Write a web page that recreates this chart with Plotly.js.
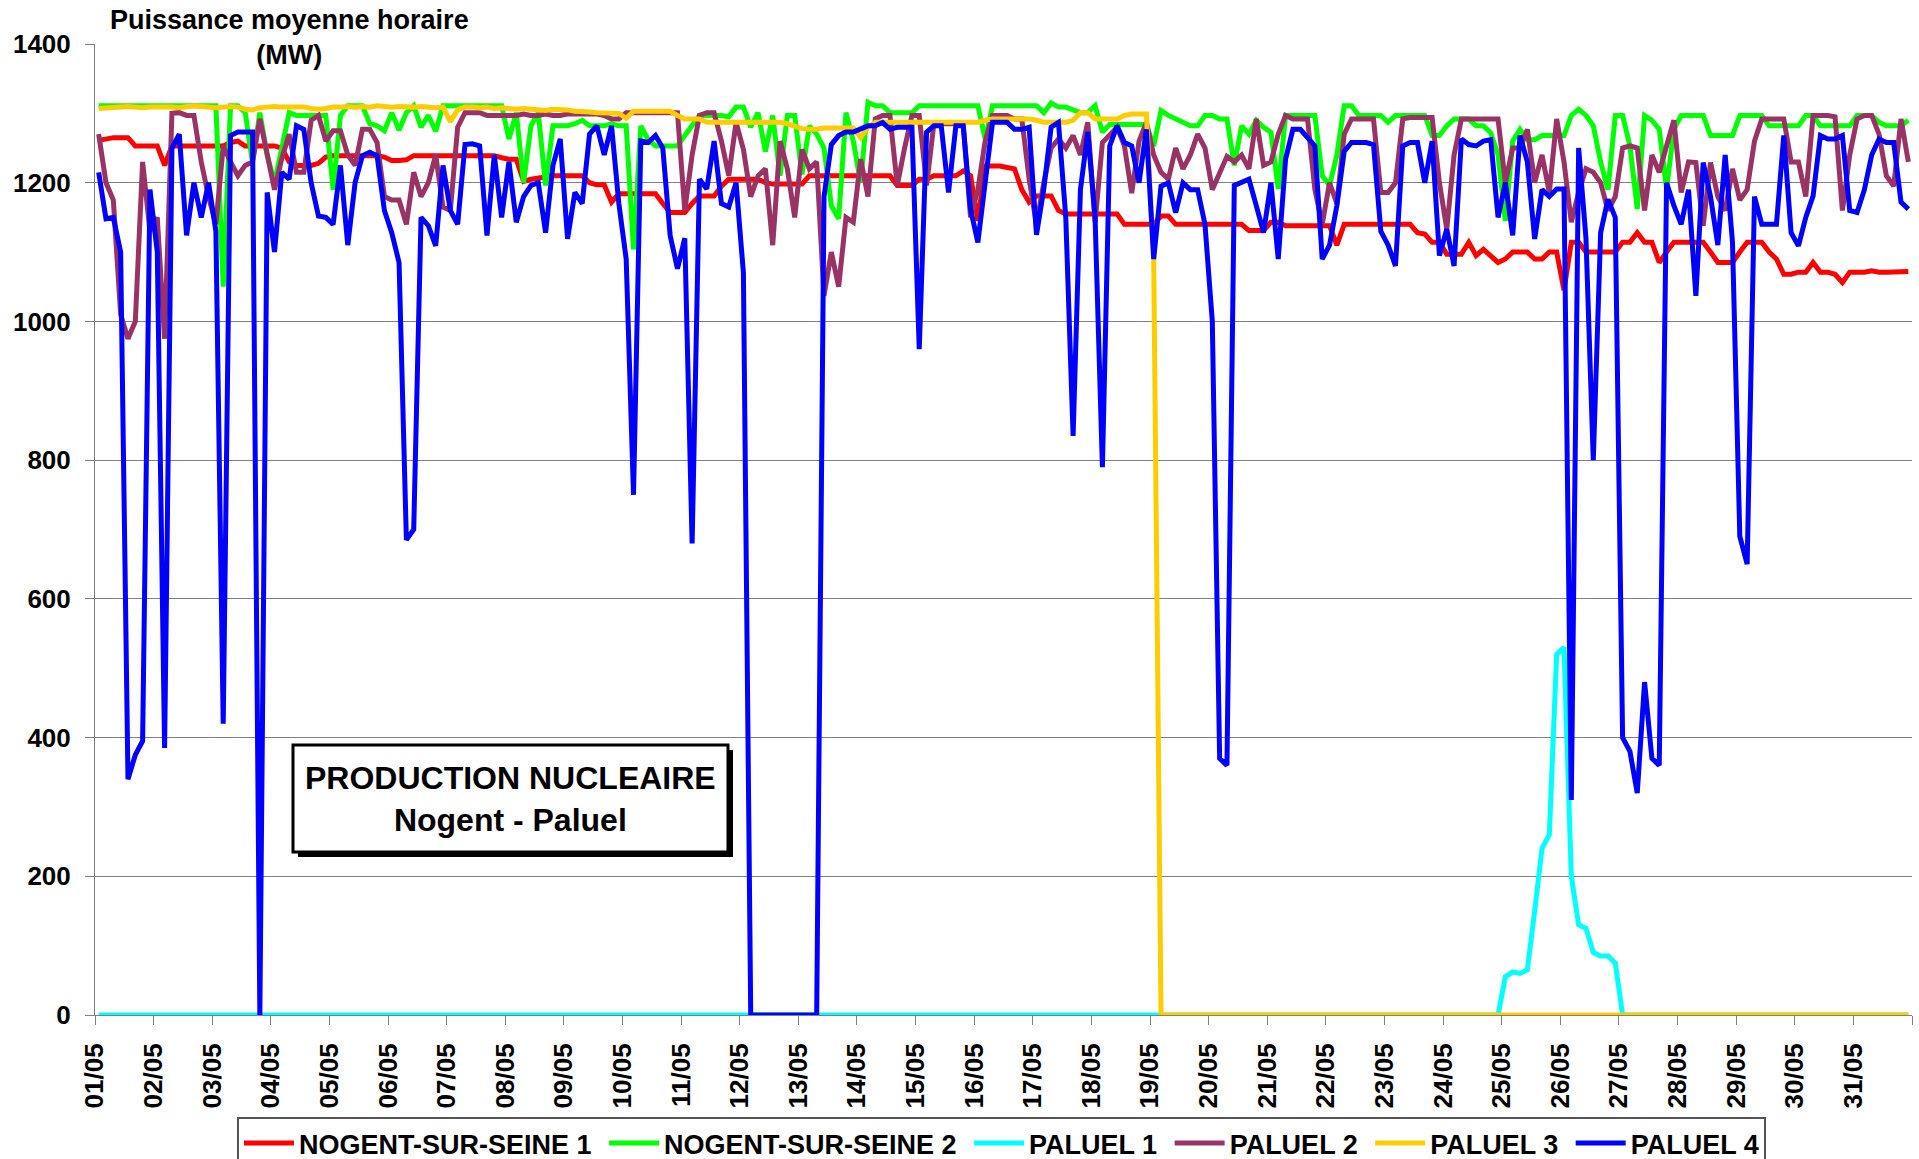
<!DOCTYPE html>
<html>
<head>
<meta charset="utf-8">
<script src="https://cdn.plot.ly/plotly-3.0.1.min.js"></script>
<style>
  html, body { margin: 0; padding: 0; background: #ffffff; }
  #chart { width: 1919px; height: 1159px; }
</style>
</head>
<body>
<div id="chart"></div>
<script>
// Day labels (one per day, May)
const dayLabels = ['01/05','02/05','03/05','04/05','05/05','06/05','07/05','08/05','09/05','10/05',
  '11/05','12/05','13/05','14/05','15/05','16/05','17/05','18/05','19/05','20/05',
  '21/05','22/05','23/05','24/05','25/05','26/05','27/05','28/05','29/05','30/05','31/05'];

// Series names
const seriesNames = ['NOGENT-SUR-SEINE 1','NOGENT-SUR-SEINE 2','PALUEL 1','PALUEL 2','PALUEL 3','PALUEL 4'];

// Readings every 3 hours (8 per day), MW
const nogent1 = [
  1261,1263,1265,1265,1265,1253,1253,1253,
  1253,1225,1253,1253,1253,1253,1253,1253,
  1253,1253,1258,1260,1253,1253,1253,1253,
  1253,1250,1230,1225,1225,1225,1228,1237,
  1239,1239,1239,1239,1239,1239,1239,1237,
  1232,1232,1233,1239,1239,1239,1239,1239,
  1239,1239,1239,1239,1239,1239,1239,1236,
  1234,1234,1202,1205,1207,1208,1210,1210,
  1210,1210,1210,1200,1197,1197,1172,1184,
  1184,1184,1184,1184,1184,1170,1157,1157,
  1157,1170,1181,1181,1181,1195,1205,1205,
  1205,1205,1205,1200,1198,1198,1198,1198,
  1198,1210,1210,1210,1210,1210,1210,1210,
  1210,1210,1210,1210,1210,1196,1196,1196,
  1205,1205,1210,1210,1210,1210,1217,1210,
  1145,1224,1224,1224,1222,1220,1190,1172,
  1181,1181,1181,1160,1155,1155,1155,1155,
  1155,1155,1155,1155,1140,1140,1140,1140,
  1140,1152,1152,1140,1140,1140,1140,1140,
  1140,1140,1140,1140,1140,1131,1131,1131,
  1143,1143,1138,1138,1138,1138,1138,1138,
  1138,1110,1140,1140,1140,1140,1140,1140,
  1140,1140,1140,1140,1128,1126,1114,1114,
  1097,1097,1097,1114,1095,1104,1095,1085,
  1090,1100,1100,1100,1090,1090,1100,1100,
  1045,1114,1114,1100,1100,1100,1100,1100,
  1114,1114,1128,1114,1114,1085,1100,1114,
  1114,1114,1114,1114,1100,1085,1085,1085,
  1100,1114,1114,1114,1100,1090,1068,1068,
  1071,1071,1085,1071,1071,1068,1056,1071,
  1071,1071,1073,1071,1071,1071,1071,1072
];

const nogent2 = [
  1311,1311,1311,1311,1311,1311,1311,1311,
  1311,1311,1311,1311,1311,1311,1311,1311,
  1311,1050,1311,1311,1301,1229,1301,1240,
  1200,1250,1301,1297,1297,1297,1297,1297,
  1190,1297,1311,1311,1311,1285,1282,1275,
  1301,1276,1301,1311,1280,1297,1274,1311,
  1311,1311,1311,1311,1311,1311,1311,1311,
  1263,1301,1200,1282,1301,1196,1282,1282,
  1282,1285,1290,1282,1282,1282,1285,1282,
  1282,1104,1282,1262,1253,1253,1253,1253,
  1268,1282,1297,1297,1297,1297,1295,1309,
  1309,1280,1301,1245,1297,1210,1297,1297,
  1212,1282,1270,1250,1167,1148,1301,1260,
  1200,1316,1311,1311,1301,1301,1301,1301,
  1311,1311,1311,1311,1311,1311,1311,1311,
  1311,1263,1311,1311,1311,1311,1311,1311,
  1311,1301,1315,1309,1309,1305,1301,1301,
  1311,1273,1284,1284,1284,1284,1284,1284,
  1253,1304,1297,1292,1287,1282,1282,1297,
  1297,1292,1292,1225,1282,1270,1290,1280,
  1273,1191,1297,1297,1297,1297,1297,1210,
  1196,1240,1311,1311,1297,1297,1297,1297,
  1287,1297,1297,1297,1297,1297,1268,1268,
  1282,1292,1292,1292,1282,1282,1272,1240,
  1145,1260,1277,1262,1262,1268,1268,1268,
  1268,1297,1306,1297,1282,1230,1190,1297,
  1297,1253,1162,1297,1290,1277,1191,1277,
  1297,1297,1297,1297,1268,1268,1268,1268,
  1297,1297,1297,1297,1282,1282,1282,1282,
  1282,1297,1297,1282,1282,1282,1282,1282,
  1297,1297,1297,1287,1282,1282,1282,1290
];

const paluel1 = [
  0,0,0,0,0,0,0,0, 0,0,0,0,0,0,0,0, 0,0,0,0,0,0,0,0, 0,0,0,0,0,0,0,0,
  0,0,0,0,0,0,0,0, 0,0,0,0,0,0,0,0, 0,0,0,0,0,0,0,0, 0,0,0,0,0,0,0,0,
  0,0,0,0,0,0,0,0, 0,0,0,0,0,0,0,0, 0,0,0,0,0,0,0,0, 0,0,0,0,0,0,0,0,
  0,0,0,0,0,0,0,0, 0,0,0,0,0,0,0,0, 0,0,0,0,0,0,0,0, 0,0,0,0,0,0,0,0,
  0,0,0,0,0,0,0,0, 0,0,0,0,0,0,0,0, 0,0,0,0,0,0,0,0, 0,0,0,0,0,0,0,0,
  0,0,0,0,0,0,0,0, 0,0,0,0,0,0,0,0, 0,0,0,0,0,0,0,0, 0,0,0,0,0,0,0,0,
  55,62,60,65,150,240,260,520,
  530,200,130,125,90,85,85,75,
  0,0,0,0,0,0,0,0, 0,0,0,0,0,0,0,0, 0,0,0,0,0,0,0,0, 0,0,0,0,0,0,0,0,
  0,0,0,0,0,0,0,0
];

const paluel2 = [
  1270,1200,1175,1010,975,1000,1230,1130,
  1150,975,1300,1301,1297,1297,1230,1180,
  1140,1253,1230,1210,1225,1230,1292,1240,
  1190,1235,1270,1215,1215,1290,1297,1260,
  1275,1275,1240,1225,1277,1277,1258,1180,
  1175,1175,1140,1215,1180,1200,1240,1165,
  1160,1280,1301,1301,1301,1297,1297,1297,
  1297,1297,1299,1297,1297,1299,1297,1297,
  1299,1299,1299,1299,1299,1297,1292,1292,
  1301,1301,1301,1301,1301,1301,1301,1301,
  1160,1240,1297,1301,1301,1260,1210,1287,
  1248,1180,1210,1220,1110,1260,1220,1150,
  1248,1220,1230,1037,1100,1050,1150,1143,
  1234,1180,1292,1297,1297,1196,1250,1297,
  1297,1196,1285,1285,1285,1285,1285,1150,
  1190,1260,1297,1297,1297,1292,1292,1205,
  1140,1200,1250,1263,1250,1268,1240,1287,
  1143,1258,1268,1280,1253,1185,1260,1287,
  1240,1215,1205,1250,1220,1240,1270,1250,
  1190,1215,1238,1230,1240,1220,1292,1225,
  1230,1270,1297,1292,1292,1292,1190,1140,
  1200,1170,1270,1292,1292,1292,1292,1186,
  1186,1200,1292,1294,1294,1294,1294,1200,
  1133,1240,1292,1292,1292,1292,1292,1292,
  1200,1250,1250,1277,1200,1240,1186,1292,
  1230,1143,1186,1220,1215,1200,1160,1180,
  1250,1253,1250,1160,1240,1215,1253,1290,
  1186,1230,1229,1138,1229,1180,1160,1220,
  1175,1190,1260,1292,1292,1292,1292,1230,
  1230,1180,1297,1297,1297,1295,1160,1240,
  1292,1297,1297,1270,1210,1195,1292,1230
];

const paluel3 = [
  1307,1308,1309,1309,1310,1309,1308,1309,
  1309,1310,1309,1308,1309,1311,1310,1309,
  1308,1309,1310,1309,1306,1305,1308,1309,
  1310,1309,1309,1308,1309,1307,1306,1307,
  1309,1309,1310,1309,1310,1309,1311,1310,
  1309,1310,1309,1309,1310,1309,1308,1309,
  1288,1305,1309,1309,1308,1309,1307,1308,
  1307,1306,1307,1306,1305,1304,1306,1306,
  1305,1303,1303,1302,1301,1301,1300,1300,
  1293,1303,1303,1303,1303,1303,1303,1297,
  1292,1292,1292,1287,1287,1287,1287,1287,
  1287,1287,1287,1287,1287,1287,1285,1282,
  1278,1277,1277,1279,1279,1279,1279,1279,
  1265,1280,1287,1287,1287,1287,1287,1287,
  1287,1287,1288,1288,1288,1288,1287,1287,
  1287,1290,1292,1292,1292,1292,1292,1292,
  1290,1287,1287,1287,1287,1290,1301,1301,
  1292,1292,1292,1292,1297,1299,1299,1299,
  1090,0,0,0,0,0,0,0,
  0,0,0,0,0,0,0,0, 0,0,0,0,0,0,0,0, 0,0,0,0,0,0,0,0,
  0,0,0,0,0,0,0,0, 0,0,0,0,0,0,0,0, 0,0,0,0,0,0,0,0,
  0,0,0,0,0,0,0,0, 0,0,0,0,0,0,0,0, 0,0,0,0,0,0,0,0,
  0,0,0,0,0,0,0,0, 0,0,0,0,0,0,0,0, 0,0,0,0,0,0,0,0
];

const paluel4 = [
  1215,1148,1150,1100,340,375,395,1190,
  1100,385,1250,1270,1124,1200,1150,1200,
  1130,420,1268,1273,1273,1273,0,1186,
  1100,1215,1205,1282,1277,1200,1152,1150,
  1140,1225,1110,1200,1239,1244,1239,1160,
  1128,1085,685,700,1150,1138,1109,1225,
  1160,1140,1255,1256,1253,1124,1240,1150,
  1230,1143,1180,1196,1200,1128,1225,1263,
  1119,1186,1170,1270,1282,1240,1282,1170,
  1090,750,1260,1258,1268,1250,1124,1076,
  1120,680,1205,1191,1260,1170,1165,1200,
  1070,0,0,0,0,0,0,0,
  0,0,0,1180,1255,1268,1273,1273,
  1277,1282,1282,1287,1277,1280,1280,1280,
  960,1273,1282,1282,1186,1282,1282,1162,
  1114,1200,1287,1287,1287,1277,1277,1280,
  1125,1191,1280,1287,1150,835,1190,1273,
  1150,790,1253,1282,1258,1253,1200,1277,
  1090,1195,1200,1157,1200,1190,1190,1140,
  1000,370,360,1196,1200,1205,1167,1128,
  1200,1090,1234,1277,1277,1265,1253,1090,
  1110,1167,1245,1258,1258,1258,1255,1130,
  1110,1080,1253,1258,1258,1200,1260,1095,
  1133,1080,1263,1255,1253,1260,1262,1150,
  1200,1124,1268,1230,1119,1190,1180,1191,
  1191,310,1250,1120,800,1128,1176,1150,
  400,380,320,480,370,360,1200,1167,
  1140,1190,1037,1229,1180,1110,1240,1114,
  690,650,1180,1140,1140,1140,1268,1128,
  1109,1150,1181,1268,1263,1263,1268,1160,
  1157,1190,1240,1263,1258,1258,1172,1162
];

const seriesColors = ['#FF0000','#00FF00','#00FFFF','#993366','#FFCC00','#0000FF'];
const seriesValues = [nogent1, nogent2, paluel1, paluel2, paluel3, paluel4];

// time of each reading, in hours from 01/05 00:00 (3-hour readings)
const hours = nogent1.map((_, i) => 1.5 + 3 * i);
const dayTicks = dayLabels.map((_, i) => i * 24).concat([dayLabels.length * 24]);
const dayTickText = dayLabels.concat(['']);

const pad = '\u00a0';
const traces = seriesValues.map((vals, k) => ({
  type: 'scatter',
  mode: 'lines',
  x: hours,
  y: vals,
  name: k < seriesValues.length - 1 ? seriesNames[k] + pad : seriesNames[k],
  line: { color: seriesColors[k], width: 5 },
  hoverinfo: 'x+y+name'
}));

const FONT = 'Liberation Sans, Arial, Helvetica, sans-serif';
const W = 1919, H = 1159;
const mL = 95, mR = 7, mT = 44, mB = 144;
const pw = W - mL - mR, ph = H - mT - mB;
const px = v => (v - mL) / pw;          // pixel x -> paper
const py = v => (H - mB - v) / ph;      // pixel y -> paper

const layout = {
  width: W, height: H,
  margin: { l: mL, r: mR, t: mT, b: mB, pad: 0, autoexpand: false },
  paper_bgcolor: '#ffffff',
  plot_bgcolor: '#ffffff',
  showlegend: true,
  font: { family: FONT, color: '#000000', size: 26 },
  xaxis: {
    range: [0, dayLabels.length * 24],
    tickmode: 'array',
    tickvals: dayTicks,
    ticktext: dayTickText,
    tickangle: -90,
    ticks: 'outside', ticklen: 9, tickwidth: 1, tickcolor: '#808080',
    showline: true, linecolor: '#808080', linewidth: 1,
    showgrid: false, zeroline: false,
    automargin: false,
    ticklabelstandoff: 8,
    tickfont: { family: FONT, size: 26, color: '#000000', weight: 'bold' },
    fixedrange: true
  },
  yaxis: {
    range: [0, 1400],
    tickmode: 'linear', tick0: 0, dtick: 200,
    ticks: 'outside', ticklen: 9, tickwidth: 1, tickcolor: '#808080',
    showline: true, linecolor: '#808080', linewidth: 1,
    showgrid: true, gridcolor: '#808080', gridwidth: 1,
    zeroline: false,
    automargin: false,
    ticklabelstandoff: 9,
    tickfont: { family: FONT, size: 26, color: '#000000', weight: 'bold' },
    fixedrange: true
  },
  legend: {
    orientation: 'h',
    x: px(237), xanchor: 'left',
    y: py(1117), yanchor: 'top',
    bgcolor: '#ffffff',
    bordercolor: '#555555', borderwidth: 2,
    font: { family: FONT, size: 27, color: '#000000', weight: 'bold' },
    itemwidth: 50,
    tracegroupgap: 0
  },
  shapes: [
    { type: 'rect', xref: 'paper', yref: 'paper',
      x0: px(298), x1: px(733), y0: py(857), y1: py(750),
      fillcolor: '#000000', line: { width: 0 } },
    { type: 'rect', xref: 'paper', yref: 'paper',
      x0: px(293), x1: px(728), y0: py(852), y1: py(745),
      fillcolor: '#ffffff', line: { color: '#000000', width: 3 } }
  ],
  annotations: [
    { xref: 'paper', yref: 'paper', x: px(289), y: py(38),
      xanchor: 'center', yanchor: 'middle', showarrow: false,
      text: 'Puissance moyenne horaire<br>(MW)',
      bgcolor: '#ffffff', borderpad: 5,
      font: { family: FONT, size: 27, color: '#000000', weight: 'bold' } },
    { xref: 'paper', yref: 'paper', x: px(510), y: py(799),
      xanchor: 'center', yanchor: 'middle', showarrow: false,
      text: 'PRODUCTION NUCLEAIRE<br>Nogent - Paluel',
      font: { family: FONT, size: 32, color: '#000000', weight: 'bold' } }
  ]
};

Plotly.newPlot('chart', traces, layout, { displayModeBar: false, staticPlot: true });
</script>
</body>
</html>
